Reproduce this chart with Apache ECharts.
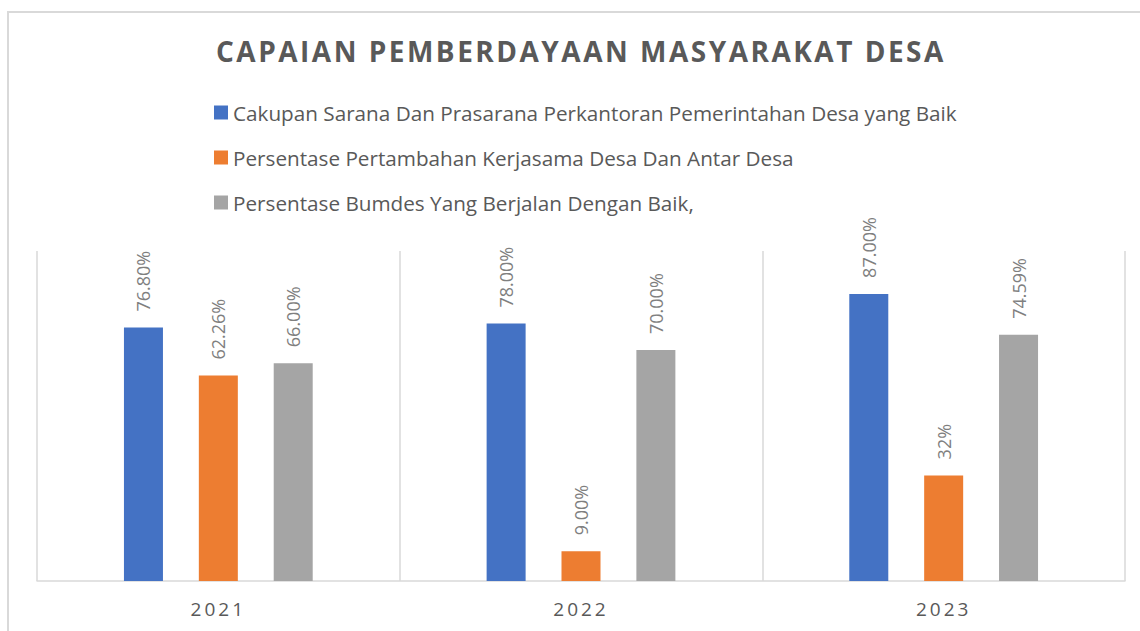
<!DOCTYPE html>
<html>
<head>
<meta charset="utf-8">
<script src="https://cdn.jsdelivr.net/npm/echarts@6/dist/echarts.min.js"></script>
<style>
  html, body { margin: 0; padding: 0; background: #fff; }
  #chart-main { width: 1140px; height: 631px; }
</style>
</head>
<body>
<div id="chart-main"></div>
<script>
var years = ['2021', '2022', '2023'];
var seriesNames = [
    'Cakupan Sarana Dan Prasarana Perkantoran Pemerintahan Desa yang Baik',
    'Persentase Pertambahan Kerjasama Desa Dan Antar Desa',
    'Persentase Bumdes Yang Berjalan Dengan Baik,'
];
var saranaValues = [76.8, 78, 87];
var kerjasamaValues = [62.26, 9, 32];
var bumdesValues = [66, 70, 74.59];
var saranaLabels = ['76.80%', '78.00%', '87.00%'];
var kerjasamaLabels = ['62.26%', '9.00%', '32%'];
var bumdesLabels = ['66.00%', '70.00%', '74.59%'];
var colors = ['#4472C4', '#ED7D31', '#A5A5A5'];
var titleText = 'CAPAIAN PEMBERDAYAAN MASYARAKAT DESA';

var myChart = echarts.init(document.getElementById('chart-main'), null, { renderer: 'svg' });

function makeSeries(name, values, labels, color) {
    return {
        name: name,
        type: 'bar',
        data: values,
        barWidth: 39,
        barGap: '92%',
        itemStyle: { color: color },
        label: {
            show: true,
            position: 'top',
            rotate: 90,
            align: 'left',
            verticalAlign: 'middle',
            distance: 16,
            color: '#7f7f7f',
            fontSize: 18,
            fontFamily: 'Open Sans',
            formatter: function (p) { return labels[p.dataIndex]; }
        }
    };
}

var option = {
    animation: false,
    color: colors,
    title: {
        text: titleText,
        left: 216,
        top: 37,
        padding: 0,
        textStyle: {
            color: '#595959',
            fontSize: 28,
            fontWeight: 'bold',
            fontFamily: 'Open Sans'
        }
    },
    legend: {
        orient: 'vertical',
        left: 209,
        top: 97,
        itemWidth: 14,
        itemHeight: 14,
        itemGap: 24,
        icon: 'rect',
        textStyle: {
            color: '#595959',
            fontSize: 20.7,
            fontFamily: 'Open Sans'
        },
        data: seriesNames
    },
    grid: {
        left: 37,
        right: 15,
        top: 251,
        bottom: 50
    },
    xAxis: {
        type: 'category',
        data: years,
        axisLine: { lineStyle: { color: '#d9d9d9', width: 1.5 } },
        axisTick: { show: false },
        splitLine: { show: true, lineStyle: { color: '#d9d9d9', width: 1.5 } },
        axisLabel: {
            color: '#595959',
            fontSize: 19,
            fontFamily: 'Open Sans',
            margin: 18
        }
    },
    yAxis: {
        type: 'value',
        min: 0,
        max: 100,
        show: false
    },
    graphic: [{
        type: 'rect',
        silent: true,
        shape: { x: 8, y: 12, width: 1200, height: 700 },
        style: { fill: 'none', stroke: '#d9d9d9', lineWidth: 2 }
    }],
    series: [
        makeSeries(seriesNames[0], saranaValues, saranaLabels, colors[0]),
        makeSeries(seriesNames[1], kerjasamaValues, kerjasamaLabels, colors[1]),
        makeSeries(seriesNames[2], bumdesValues, bumdesLabels, colors[2])
    ]
};

option && myChart.setOption(option);

// letter spacing for title and year labels (svg text)
function spaceText() {
    var texts = document.querySelectorAll('#chart-main svg text');
    texts.forEach(function (t) {
        var s = t.textContent;
        if (s === titleText) {
            t.style.letterSpacing = '2.5px';
        } else if (years.indexOf(s) >= 0) {
            t.style.letterSpacing = '3px';
        }
    });
}
spaceText();
myChart.on('finished', spaceText);
</script>
</body>
</html>
